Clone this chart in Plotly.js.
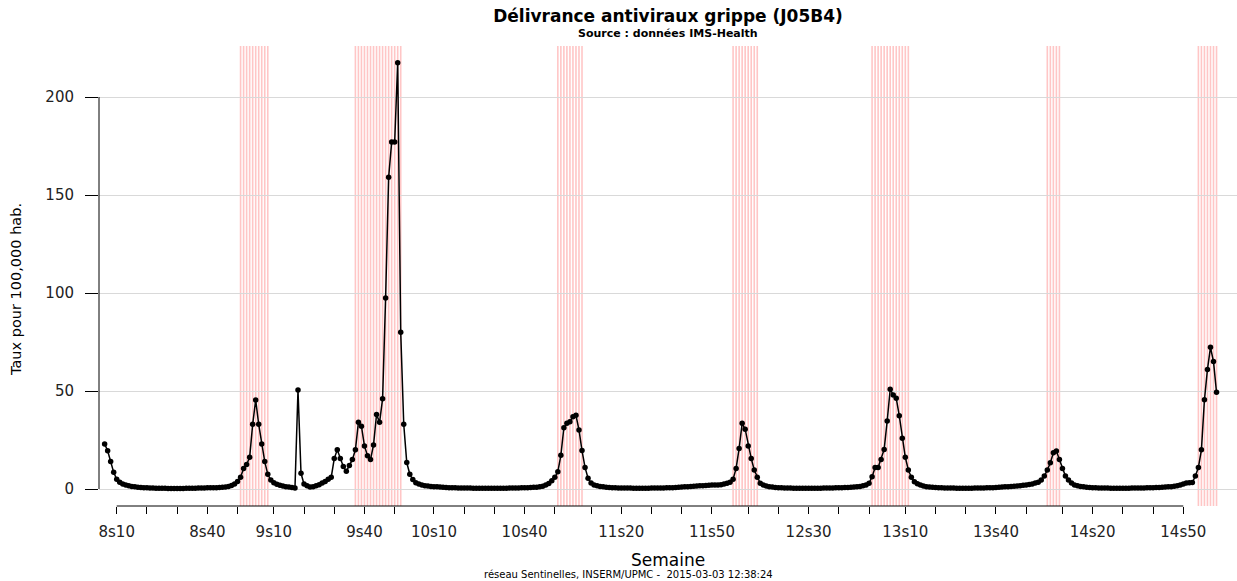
<!DOCTYPE html>
<html>
<head>
<meta charset="utf-8">
<script src="https://cdn.plot.ly/plotly-3.0.1.min.js"></script>
<style>
html,body{margin:0;padding:0;background:#fff;}
#chart{width:1237px;height:581px;}
</style>
</head>
<body>
<div id="chart"></div>
<script>
// ---- Data (taux pour 100 000 hab., par semaine) ----
const weeksInYear = {2008: 52, 2009: 53, 2010: 52, 2011: 52, 2012: 52, 2013: 52, 2014: 52, 2015: 52};

// 2008: weeks 6..52
const rate2008 = [23, 19.5, 14, 8.5, 5, 3.5, 2.6, 2.0, 1.6, 1.3, 1.1, 0.9, 0.8, 0.7, 0.6, 0.5,
  0.45, 0.4, 0.4, 0.35, 0.35, 0.3, 0.3, 0.3, 0.3, 0.3, 0.3, 0.35, 0.35, 0.4, 0.4, 0.45, 0.5,
  0.55, 0.6, 0.6, 0.7, 0.7, 0.8, 0.9, 1.0, 1.3, 1.8, 2.6, 3.8, 6, 10.5];
// 2009: weeks 1..53
const rate2009 = [12.5, 16.2, 33, 45.4, 33, 23, 14, 7.5, 4.6, 3.2, 2.4, 1.9, 1.5, 1.2, 1.0, 0.8,
  0.5, 50.5, 8, 2.5, 1.6, 1.0, 1.2, 1.6, 2.2, 3.0, 3.8, 5, 6, 15.5, 20, 15.5, 11.5, 9, 12, 15,
  20, 34, 32, 22, 17, 15, 22.5, 38, 34, 46, 97.5, 159, 177, 177, 217.5, 80, 33];
// 2010: weeks 1..52
const rate2010 = [13.5, 7.5, 4.8, 3.2, 2.5, 2.0, 1.7, 1.5, 1.3, 1.2, 1.1, 1.0, 0.9, 0.8, 0.7,
  0.65, 0.6, 0.55, 0.5, 0.5, 0.45, 0.45, 0.4, 0.4, 0.4, 0.4, 0.35, 0.35, 0.35, 0.35, 0.35, 0.35,
  0.4, 0.4, 0.45, 0.5, 0.5, 0.55, 0.6, 0.65, 0.7, 0.75, 0.85, 0.95, 1.1, 1.4, 2.0, 2.8, 4.2,
  6, 8.8, 17.2];
// 2011: weeks 1..52
const rate2011 = [31.3, 33.5, 34.3, 36.9, 37.6, 30.1, 19.6, 11, 5.5, 3.0, 2.1, 1.6, 1.3, 1.1,
  0.9, 0.8, 0.7, 0.6, 0.55, 0.5, 0.5, 0.45, 0.45, 0.4, 0.4, 0.4, 0.4, 0.4, 0.4, 0.45, 0.45, 0.5,
  0.5, 0.55, 0.6, 0.65, 0.7, 0.8, 0.9, 1.0, 1.1, 1.2, 1.3, 1.4, 1.5, 1.6, 1.7, 1.8, 1.9, 2.0,
  2.0, 2.1];
// 2012: weeks 1..52
const rate2012 = [2.2, 2.5, 2.9, 3.5, 5, 10.5, 20.7, 33.5, 30.5, 22, 15.6, 9.7, 6, 2.9, 2.0,
  1.5, 1.2, 1.0, 0.8, 0.7, 0.6, 0.55, 0.5, 0.45, 0.4, 0.4, 0.4, 0.35, 0.35, 0.35, 0.35, 0.4,
  0.4, 0.4, 0.45, 0.5, 0.5, 0.55, 0.6, 0.65, 0.7, 0.75, 0.8, 0.9, 1.0, 1.1, 1.3, 1.6, 2.0, 2.9,
  6.3, 11];
// 2013: weeks 1..52
const rate2013 = [11, 15.1, 20.2, 34.7, 50.9, 48, 46.3, 37.4, 25.9, 16.2, 9.7, 6, 3.7, 2.7,
  2.0, 1.5, 1.2, 1.0, 0.85, 0.75, 0.65, 0.6, 0.55, 0.5, 0.45, 0.45, 0.4, 0.4, 0.4, 0.4, 0.4,
  0.4, 0.45, 0.45, 0.5, 0.55, 0.6, 0.65, 0.7, 0.8, 0.9, 1.0, 1.1, 1.2, 1.3, 1.4, 1.5, 1.7,
  1.9, 2.1, 2.3, 2.6];
// 2014: weeks 1..52
const rate2014 = [3.0, 3.5, 4.6, 6.6, 9.7, 13.4, 18.5, 19.4, 15.1, 10.5, 6.6, 4.6, 3.0, 2.1,
  1.6, 1.3, 1.1, 0.9, 0.8, 0.7, 0.6, 0.55, 0.5, 0.45, 0.45, 0.4, 0.4, 0.4, 0.4, 0.4, 0.4, 0.4,
  0.45, 0.45, 0.5, 0.5, 0.55, 0.6, 0.65, 0.7, 0.75, 0.8, 0.9, 1.0, 1.1, 1.2, 1.4, 1.7, 2.1,
  2.6, 3.0, 3.2];
// 2015: weeks 1..9
const rate2015 = [3.3, 6.6, 11, 20, 45.5, 61, 72.3, 65, 49.3];

const seriesYears = [2008, 2009, 2010, 2011, 2012, 2013, 2014, 2015];
const seriesFirstWeek = [6, 1, 1, 1, 1, 1, 1, 1];
const seriesRates = [rate2008, rate2009, rate2010, rate2011, rate2012, rate2013, rate2014, rate2015];

// Epidemic periods (shaded weeks)
const epiStart = ['2008-51', '2009-37', '2010-51', '2012-05', '2012-51', '2014-05', '2015-03'];
const epiEnd   = ['2009-08', '2009-52', '2011-07', '2012-13', '2013-11', '2014-09', '2015-09'];

// Axis ticks
const tickLabels = ['8s10','8s20','8s30','8s40','8s50','9s10','9s20','9s30','9s40','9s50',
  '10s10','10s20','10s30','10s40','10s50','11s10','11s20','11s30','11s40','11s50',
  '12s10','12s20','12s30','12s40','12s50','13s10','13s20','13s30','13s40','13s50',
  '14s10','14s20','14s30','14s40','14s50'];
const shownLabels = ['8s10','8s40','9s10','9s40','10s10','10s40','11s20','11s50','12s30',
  '13s10','13s40','14s20','14s50'];
const yTicks = [0, 50, 100, 150, 200];

// ---- helpers ----
function weekPos(year, week) {
  let p = week - 10;
  for (let y = 2008; y < year; y++) p += weeksInYear[y];
  return p;
}
function parseYW(s) { const a = s.split('-'); return weekPos(+a[0], +a[1]); }

const xs = [], ys = [];
seriesYears.forEach((yr, k) => {
  seriesRates[k].forEach((v, j) => { xs.push(weekPos(yr, seriesFirstWeek[k] + j)); ys.push(v); });
});

const tickVals = tickLabels.map(l => { const m = l.split('s'); return weekPos(2000 + (+m[0]), +m[1]); });
const tickText = tickLabels.map(l => shownLabels.includes(l) ? l : '');

// layout geometry (pixels)
const W = 1237, H = 581, plotLeft = 99, plotRight = 1237, plotTop = 46, plotBottom = 506;
const pxPerWeek = 3.0215, x0px = 116.7;
const pxPerUnit = 1.96, y0px = 489;
const xRange = [(plotLeft - x0px) / pxPerWeek, (plotRight - x0px) / pxPerWeek];
const yRange = [(y0px - plotBottom) / pxPerUnit, (y0px - plotTop) / pxPerUnit];
const pY = py => (plotBottom - py) / (plotBottom - plotTop);
const pX = px => (px - plotLeft) / (plotRight - plotLeft);

const shapes = [];
epiStart.forEach((s, k) => {
  const a = parseYW(s), b = parseYW(epiEnd[k]);
  for (let w = a; w <= b; w++) {
    shapes.push({type: 'line', xref: 'x', yref: 'paper', x0: w, x1: w, y0: 0, y1: 1,
      line: {color: '#ffc6c6', width: 1.6}, layer: 'below'});
  }
});
// R-style axis lines spanning only the tick range
shapes.push({type: 'line', xref: 'x', yref: 'paper', x0: tickVals[0], x1: tickVals[tickVals.length - 1],
  y0: 0, y1: 0, line: {color: '#000', width: 1}});
shapes.push({type: 'line', xref: 'paper', yref: 'y', x0: 0, x1: 0, y0: yTicks[0], y1: yTicks[yTicks.length - 1],
  line: {color: '#000', width: 1}});

const trace = {
  x: xs, y: ys, type: 'scatter', mode: 'lines+markers',
  line: {color: '#000', width: 1.5},
  marker: {color: '#000', size: 5.5},
  hoverinfo: 'skip', showlegend: false
};

const tickFont = {family: 'DejaVu Sans', size: 15, color: '#222'};
const layout = {
  width: W, height: H,
  margin: {l: plotLeft, r: W - plotRight, t: plotTop, b: H - plotBottom, pad: 0, autoexpand: false},
  paper_bgcolor: '#fff', plot_bgcolor: '#fff',
  showlegend: false,
  title: {text: 'Délivrance antiviraux grippe (J05B4)', xref: 'paper', x: 0.5, xanchor: 'center',
    yref: 'container', y: 1 - 16 / H, yanchor: 'middle',
    font: {family: 'DejaVu Sans', size: 17, weight: 'bold', color: '#000'}},
  xaxis: {range: xRange, tickmode: 'array', tickvals: tickVals, ticktext: tickText,
    ticks: 'outside', ticklen: 7, tickwidth: 1, tickcolor: '#000', showgrid: false,
    zeroline: false, showline: false, tickfont: tickFont, automargin: false,
    ticklabelstandoff: 5},
  yaxis: {range: yRange, tickmode: 'array', tickvals: yTicks, ticktext: yTicks.map(String),
    ticks: 'outside', ticklen: 13, tickwidth: 1, tickcolor: '#000', showgrid: true,
    gridcolor: '#d9d9d9', gridwidth: 1, zeroline: false, showline: false, tickfont: tickFont,
    automargin: false, ticklabelstandoff: 8},
  shapes: shapes,
  annotations: [
    {text: 'Source : données IMS-Health', xref: 'paper', yref: 'paper', x: 0.5, y: pY(33.5),
      xanchor: 'center', yanchor: 'middle', showarrow: false,
      font: {family: 'DejaVu Sans', size: 11, weight: 'bold', color: '#000'}},
    {text: 'Semaine', xref: 'paper', yref: 'paper', x: 0.5, y: pY(560),
      xanchor: 'center', yanchor: 'middle', showarrow: false,
      font: {family: 'DejaVu Sans', size: 17, color: '#000'}},
    {text: 'réseau Sentinelles, INSERM/UPMC -\u00a0 2015-03-03 12:38:24', xref: 'paper', yref: 'paper',
      x: pX(628), y: pY(574), xanchor: 'center', yanchor: 'middle', showarrow: false,
      font: {family: 'DejaVu Sans', size: 10, color: '#000'}},
    {text: 'Taux pour 100,000 hab.', xref: 'paper', yref: 'paper', x: pX(16), y: pY(290),
      xanchor: 'center', yanchor: 'middle', textangle: -90, showarrow: false,
      font: {family: 'DejaVu Sans', size: 14.5, color: '#000'}}
  ]
};

Plotly.newPlot('chart', [trace], layout, {displayModeBar: false, staticPlot: true});
</script>
</body>
</html>
